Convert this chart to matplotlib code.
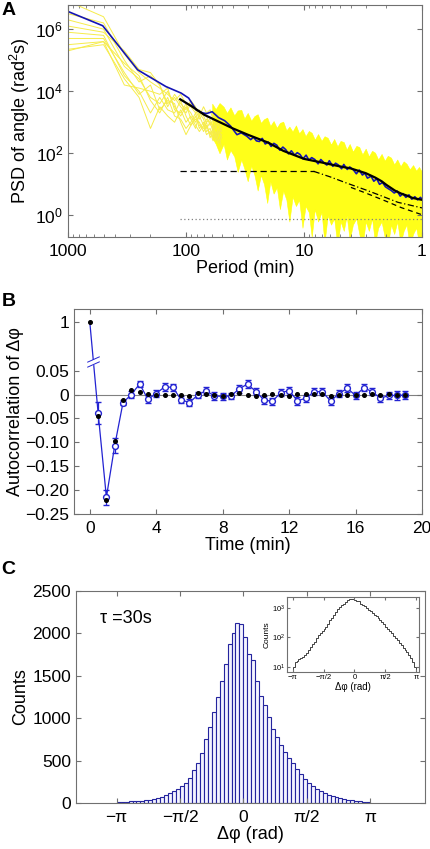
import numpy as np
import matplotlib
matplotlib.use('Agg')
import matplotlib.pyplot as plt
from matplotlib import transforms

plt.rcParams['font.family'] = ['Liberation Sans', 'DejaVu Sans']
plt.rcParams['mathtext.fontset'] = 'custom'
plt.rcParams['mathtext.rm'] = 'Liberation Sans'
plt.rcParams['mathtext.it'] = 'Liberation Sans:italic'

# ---------------- panel A data (log10 of PSD) ----------------
yel_period = [1000, 500, 333, 250, 200, 167, 143, 125, 111, 100,
              91, 83, 77, 71, 67, 62.5, 59, 56, 53, 50]
yel_traces = [
    [6.9, 6.4, 5.2, 4.6, 4.3, 4.1, 3.9, 3.7, 3.9, 3.6, 3.5, 3.3, 3.4, 3.2, 3.0, 3.1, 2.8, 3.0, 2.9, 2.7],
    [6.5, 6.2, 5.0, 4.3, 4.5, 4.2, 3.6, 3.8, 3.5, 3.3, 3.6, 3.4, 3.1, 3.3, 3.2, 2.9, 3.1, 2.8, 3.0, 2.8],
    [6.3, 6.0, 4.8, 4.4, 3.8, 3.6, 4.0, 3.5, 3.2, 3.5, 3.3, 3.0, 3.2, 2.9, 3.1, 3.0, 2.7, 2.9, 2.6, 2.8],
    [6.1, 5.9, 5.3, 4.7, 4.6, 4.2, 3.5, 3.9, 3.6, 3.4, 3.7, 3.5, 3.2, 3.5, 3.3, 3.4, 3.1, 3.3, 3.2, 3.0],
    [5.9, 5.8, 4.5, 4.0, 3.3, 3.8, 3.4, 3.3, 3.7, 3.2, 2.9, 3.1, 3.0, 2.7, 2.9, 2.6, 2.8, 2.5, 2.7, 2.6],
    [5.7, 5.7, 4.6, 3.9, 4.2, 3.4, 3.7, 3.6, 3.0, 2.6, 2.9, 3.2, 2.8, 3.0, 2.7, 2.8, 2.5, 2.7, 2.4, 2.6],
    [5.5, 5.6, 4.2, 4.1, 4.0, 3.9, 4.1, 3.4, 3.3, 3.6, 3.1, 2.8, 3.3, 3.1, 2.8, 3.0, 2.9, 2.6, 2.8, 2.5],
    [5.35, 5.5, 4.4, 3.8, 2.8, 3.5, 3.2, 3.0, 3.4, 3.0, 3.2, 2.9, 2.7, 2.9, 2.6, 2.7, 2.4, 2.6, 2.3, 2.5],
    [5.3, 5.6, 4.9, 4.5, 3.7, 3.3, 3.8, 3.2, 3.1, 2.8, 3.0, 3.3, 2.9, 2.8, 3.0, 2.5, 2.7, 2.4, 2.6, 2.2],
]

band_period = [60, 56, 52, 48, 45, 42, 39, 36.5, 34, 32, 30, 28, 26.3, 24.7, 23.2, 21.8, 20.5, 19.3,
               18.1, 17, 16, 15, 14.1, 13.3, 12.5, 11.7, 11, 10.3, 9.7, 9.1, 8.6, 8.1, 7.6, 7.1, 6.7,
               6.3, 5.9, 5.55, 5.2, 4.9, 4.6, 4.35, 4.1, 3.85, 3.6, 3.4, 3.2, 3.0, 2.82, 2.65, 2.5,
               2.35, 2.2, 2.07, 1.95, 1.83, 1.72, 1.62, 1.52, 1.43, 1.35, 1.27, 1.19, 1.12, 1.06, 1.0]
band_hi = [3.60, 3.42, 3.62, 3.50, 3.30, 3.48, 3.22, 3.38, 3.40, 3.12, 3.30, 3.05, 3.20, 3.26, 2.98,
           3.10, 3.15, 2.88, 3.04, 2.82, 2.98, 3.02, 2.74, 2.86, 2.70, 2.90, 2.64, 2.78, 2.55, 2.72,
           2.66, 2.44, 2.62, 2.40, 2.55, 2.50, 2.28, 2.46, 2.22, 2.40, 2.36, 2.12, 2.30, 2.05, 2.24,
           2.20, 1.96, 2.15, 1.90, 2.08, 2.02, 1.80, 1.98, 1.76, 1.92, 1.86, 1.64, 1.80, 1.58, 1.74,
           1.66, 1.48, 1.62, 1.44, 1.56, 1.40]
band_lo = [2.5, 2.3, 2.0, 2.3, 1.8, 2.1, 1.9, 1.4, 1.8, 1.5, 1.1, 1.6, 1.3, 0.8, 1.3, 1.0, 0.4, 1.1,
           0.7, 0.9, 0.2, 0.8, 0.5, -0.2, 0.6, 0.3, 0.5, -0.4, 0.3, 0.1, -0.7, 0.2, -0.2, 0.1, -0.9,
           0.0, -0.3, -0.1, -1.0, -0.2, -0.5, 0.0, -0.8, -0.3, -0.1, -0.6, -1.0, -0.2, -0.5, -0.1,
           -0.9, -0.4, -0.2, -0.7, -1.0, -0.3, -0.6, -0.2, -0.9, -0.5, -0.3, -1.0, -0.6, -0.4, -0.9, -0.6]

mean_period = [1000, 508, 257, 148, 110, 95, 82, 72, 67, 60, 53, 47, 42, 37, 34, 30.5,
               28.3, 26.8, 25.3, 23.9, 22.6, 21.3, 20.1, 19.0, 18.0, 17.0, 16.0, 15.1, 14.3, 13.5,
               12.8, 12.0, 11.4, 10.8, 10.2, 9.6, 9.1, 8.6, 8.1, 7.6, 7.2, 6.8, 6.4, 6.1, 5.7, 5.4,
               5.1, 4.8, 4.6, 4.3, 4.1, 3.8, 3.6, 3.4, 3.2, 3.05, 2.9, 2.7, 2.56, 2.42, 2.29, 2.16,
               2.04, 1.93, 1.82, 1.72, 1.62, 1.53, 1.45, 1.37, 1.29, 1.22, 1.15, 1.09, 1.03, 1.0]
mean_psd = [6.57, 6.11, 4.69, 4.15, 3.94, 3.78, 3.40, 3.30, 3.28, 3.34, 3.15, 3.05, 2.88, 2.60, 2.66, 2.55,
            2.44, 2.52, 2.40, 2.38, 2.48, 2.30, 2.36, 2.22, 2.32, 2.26, 2.10, 2.20, 2.12, 1.98,
            2.08, 1.94, 2.02, 1.96, 1.82, 1.94, 1.78, 1.86, 1.80, 1.66, 1.80, 1.70, 1.62, 1.76, 1.58, 1.68,
            1.62, 1.50, 1.64, 1.48, 1.56, 1.46, 1.34, 1.46, 1.30, 1.36, 1.20, 1.26, 1.10, 1.18, 1.00, 1.06,
            0.92, 0.86, 0.80, 0.72, 0.78, 0.62, 0.70, 0.58, 0.66, 0.52, 0.60, 0.50, 0.58, 0.52]

fit_period = [112, 90, 70, 55, 40, 30, 20, 15, 10, 7, 5, 4, 3, 2.5, 2.2, 2, 1.7, 1.5, 1.35, 1.2, 1]
fit_psd = [3.74, 3.52, 3.24, 3.05, 2.80, 2.60, 2.34, 2.08, 1.82, 1.70, 1.58, 1.51, 1.36, 1.22, 1.10,
           0.98, 0.80, 0.70, 0.64, 0.56, 0.50]

flat_period = [112, 8.3]
flat_psd = [1.42, 1.42]
dd_period = [8.3, 6, 4.35, 3, 2.27, 1.6, 1.0]
dd_psd = [1.42, 1.24, 1.04, 0.82, 0.645, 0.42, 0.24]
dash2_period = [4, 3, 2, 1.5, 1.0]
dash2_psd = [0.9, 0.72, 0.45, 0.25, 0.02]
noise_period = [112, 1]
noise_psd = [-0.11, -0.11]

# ---------------- panel B data ----------------
lag = [0, 0.5, 1, 1.5, 2, 2.5, 3, 3.5, 4, 4.5, 5, 5.5, 6, 6.5, 7, 7.5, 8, 8.5, 9, 9.5,
       10, 10.5, 11, 11.5, 12, 12.5, 13, 13.5, 14, 14.5, 15, 15.5, 16, 16.5, 17, 17.5, 18, 18.5, 19]
ac_data = [1, -0.038, -0.215, -0.107, -0.017, 0.0, 0.022, -0.01, 0.002, 0.016, 0.015, -0.011, -0.017,
           -0.001, 0.008, -0.003, -0.004, -0.003, 0.012, 0.022, 0.006, -0.012, -0.014, 0.004, 0.008,
           -0.013, -0.008, 0.006, 0.006, -0.014, 0.002, 0.013, -0.002, 0.014, 0.006, -0.008, -0.002,
           -0.002, -0.001]
ac_err = [0, 0.023, 0.016, 0.015, 0.006, 0.008, 0.007, 0.008, 0.007, 0.009, 0.008, 0.007, 0.008,
          0.007, 0.007, 0.008, 0.007, 0.007, 0.008, 0.009, 0.008, 0.008, 0.007, 0.008, 0.008,
          0.008, 0.007, 0.007, 0.008, 0.008, 0.007, 0.008, 0.008, 0.007, 0.008, 0.008, 0.007,
          0.009, 0.008]
ac_model = [1, -0.045, -0.22, -0.098, -0.012, 0.01, 0.006, 0.002, 0.0, -0.001, -0.001, 0.0, -0.003,
            0.003, 0.001, -0.001, -0.004, 0.002, 0.004, -0.002, -0.003, 0.0, 0.002, -0.002, -0.003,
            0.001, 0.001, 0.002, 0.001, -0.003, -0.001, -0.002, 0.0, -0.001, 0.001, -0.001, 0.001,
            -0.002, -0.001]

# ---------------- panel C data ----------------
counts = [10, 14, 16, 18, 20, 22, 26, 30, 38, 48, 58, 72, 92, 118, 140, 170, 195, 235, 290, 390,
          470, 590, 750, 900, 1070, 1250, 1440, 1640, 1870, 2000, 2120, 2110, 1960, 1760, 1690,
          1440, 1260, 1150, 1010, 870, 780, 680, 600, 530, 470, 400, 340, 280, 230, 200, 170, 140,
          115, 95, 80, 65, 55, 45, 38, 32, 26, 20, 15, 10]
edges = np.linspace(-np.pi, np.pi, len(counts) + 1)

pi_ticks = [-np.pi, -np.pi / 2, 0, np.pi / 2, np.pi]
pi_labels = ['\u2212\u03c0', '\u2212\u03c0/2', '0', '\u03c0/2', '\u03c0']

spine_col = '#707070'
yellow = '#ffff00'
yline = '#f6ec4a'
navy = '#1414b4'
blue = '#2323d2'
FS = 12.5


def style(ax, fs=FS):
    for s in ax.spines.values():
        s.set_color(spine_col)
        s.set_linewidth(0.8)
    ax.tick_params(which='both', direction='in', top=True, right=True,
                   color=spine_col, labelsize=fs)


fig = plt.figure(figsize=(4.31, 8.49), dpi=100)

# ================= A =================
ax = fig.add_axes([0.1578, 0.7208, 0.8213, 0.2733])
ax.set_xscale('log')
ax.set_yscale('log')
for tr in yel_traces:
    ax.plot(yel_period, 10 ** np.array(tr), color=yline, lw=0.7)
ax.fill_between(band_period, 10 ** np.array(band_lo), 10 ** np.array(band_hi),
                color=yellow, lw=0.4, alpha=0.9)
ax.plot(mean_period, 10 ** np.array(mean_psd), color=navy, lw=1.2)
ax.plot(fit_period, 10 ** np.array(fit_psd), color='black', lw=1.6)
ax.plot(flat_period, 10 ** np.array(flat_psd), color='black', lw=0.9, ls=(0, (5, 3)))
ax.plot(dd_period, 10 ** np.array(dd_psd), color='black', lw=0.9, ls=(0, (5, 2, 1, 2)))
ax.plot(dash2_period, 10 ** np.array(dash2_psd), color='black', lw=0.9, ls=(0, (4, 3)))
ax.plot(noise_period, 10 ** np.array(noise_psd), color='#808080', lw=0.9, ls=(0, (1, 2)))
ax.set_xlim(1000, 1)
ax.set_ylim(0.2, 6e6)
ax.set_xticks([1000, 100, 10, 1])
ax.set_xticklabels(['1000', '100', '10', '1'])
ax.set_yticks([1, 1e2, 1e4, 1e6])
ax.yaxis.set_minor_locator(matplotlib.ticker.NullLocator())
style(ax)
ax.tick_params(axis='x', pad=5)
ax.set_xlabel('Period (min)', fontsize=13, labelpad=1)
ax.set_ylabel('PSD of angle (rad$^{2}$s)', fontsize=13, labelpad=2)

# ================= B =================
yb, kk = 0.069, 0.089


def fwd(y):
    y = np.asarray(y, dtype=float)
    return np.where(y > yb, yb + (y - yb) * kk, y)


def inv(y):
    y = np.asarray(y, dtype=float)
    return np.where(y > yb, yb + (y - yb) / kk, y)


bx = fig.add_axes([0.1717, 0.3946, 0.8074, 0.2415])
bx.set_yscale('function', functions=(fwd, inv))
bx.axhline(0, color='#808080', lw=0.8, zorder=1)
bx.plot(lag, ac_data, '-', color=blue, lw=0.9, zorder=2)
bx.errorbar(lag[1:], ac_data[1:], yerr=ac_err[1:], fmt='o', color=blue, mfc='white', mec=blue,
            ms=4.2, mew=1.0, elinewidth=0.9, capsize=2.2, zorder=2)
bx.plot(lag, ac_model, 'o', color='black', ms=2.6, zorder=3)
# break marks on the line between the first two lags
xbrk = lag[0] + (lag[1] - lag[0]) * (fwd(ac_data[0]) - yb) / (fwd(ac_data[0]) - fwd(ac_data[1]))
brk = [(-1, -0.45), (1, 0.45)]
bx.plot([xbrk], [yb], marker=brk, ms=9, mew=3.5, color='white', zorder=4, ls='none')
for dy in (-1.6, 1.6):
    tr = transforms.offset_copy(bx.transData, fig=fig, x=0, y=dy, units='points')
    bx.plot([xbrk], [yb], marker=brk, ms=9, mew=0.7, color=blue, zorder=5, ls='none', transform=tr)
bx.set_xlim(-0.95, 20)
bx.set_ylim(-0.25, 1.305)
bx.set_xticks([0, 4, 8, 12, 16, 20])
bx.set_yticks([1, 0.05, 0, -0.05, -0.10, -0.15, -0.20, -0.25])
bx.set_yticklabels(['1', '0.05', '0', '\u22120.05', '\u22120.10', '\u22120.15', '\u22120.20', '\u22120.25'])
bx.yaxis.set_minor_locator(matplotlib.ticker.NullLocator())
style(bx)
bx.tick_params(axis='x', pad=5)
bx.set_xlabel('Time (min)', fontsize=13, labelpad=1)
bx.set_ylabel('Autocorrelation of \u0394\u03c6', fontsize=13, labelpad=1)

# ================= C =================
cx = fig.add_axes([0.1763, 0.0542, 0.8097, 0.2497])
cx.bar(edges[:-1], counts, width=np.diff(edges), align='edge', facecolor='#f4f4ff',
       edgecolor='#24249e', lw=0.8)
cx.set_xlim(-4.15, 4.5)
cx.set_ylim(0, 2500)
cx.set_xticks(pi_ticks)
cx.set_xticklabels(pi_labels)
cx.set_yticks([0, 500, 1000, 1500, 2000, 2500])
style(cx)
cx.tick_params(axis='x', pad=5)
cx.set_xlabel('\u0394\u03c6 (rad)', fontsize=13, labelpad=1)
cx.set_ylabel('Counts', fontsize=13, labelpad=2)
cx.text(0.07, 0.85, '\u03c4 =30s', transform=cx.transAxes, fontsize=13)

ix = fig.add_axes([0.6659, 0.2085, 0.3063, 0.0883])
ix.stairs(counts, edges, color='#222222', lw=0.6)
ix.set_yscale('log')
ix.set_xlim(-3.43, 3.29)
ix.set_ylim(10 ** 0.82, 10 ** 3.38)
ix.set_xticks(pi_ticks)
ix.set_xticklabels(pi_labels)
ix.set_yticks([10, 100, 1000])
ix.yaxis.set_minor_locator(matplotlib.ticker.NullLocator())
style(ix, fs=5.5)
ix.tick_params(which='both', length=2, pad=1.5)
ix.set_xlabel('\u0394\u03c6 (rad)', fontsize=7, labelpad=1)
ix.set_ylabel('Counts', fontsize=6, labelpad=1)

fig.text(0.003, 0.998, 'A', fontsize=14, fontweight='bold', va='top')
fig.text(0.003, 0.655, 'B', fontsize=14, fontweight='bold', va='top')
fig.text(0.003, 0.339, 'C', fontsize=14, fontweight='bold', va='top')

fig.savefig('out.png', dpi=100)
